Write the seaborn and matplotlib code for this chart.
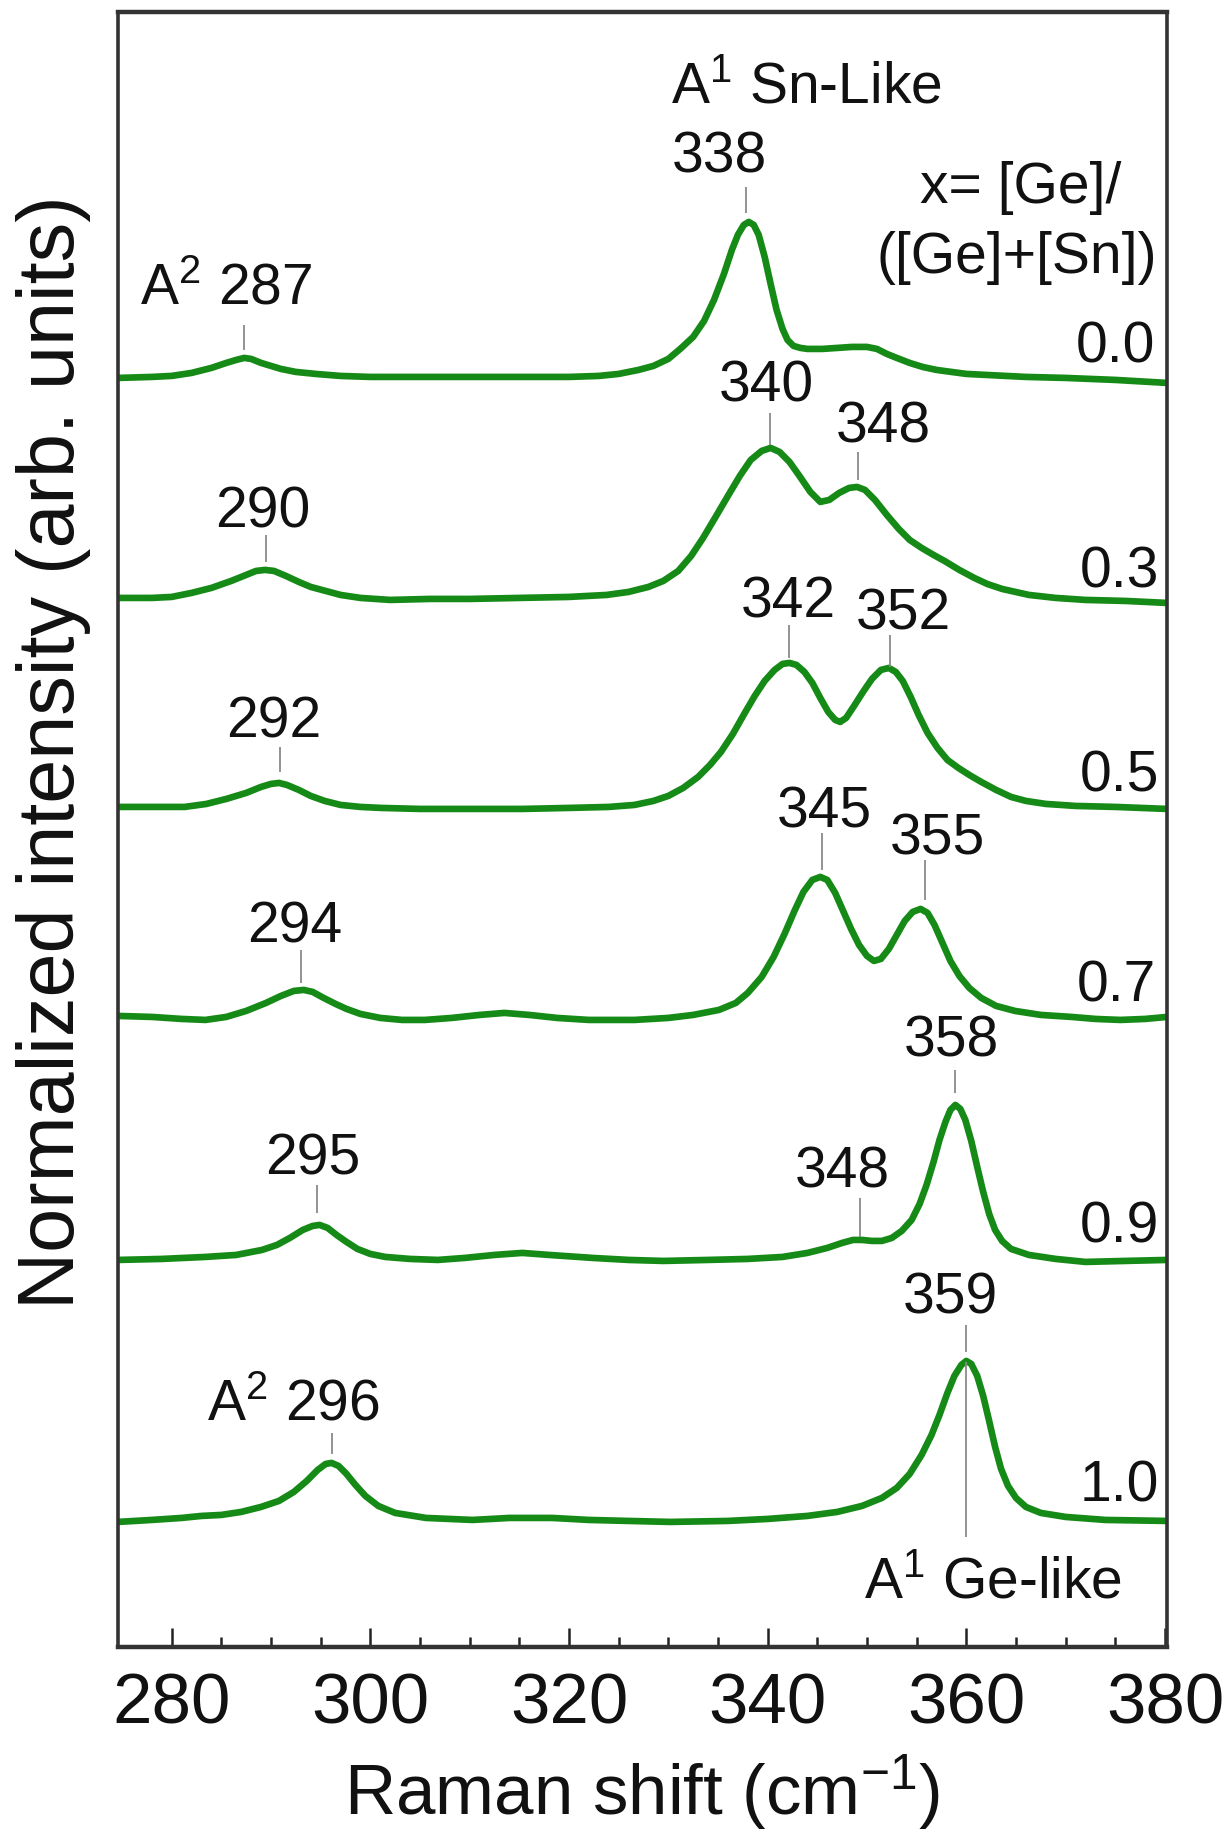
import numpy as np
import pandas as pd
import matplotlib
matplotlib.use("Agg")
import matplotlib.pyplot as plt
import seaborn as sns
from matplotlib.ticker import FixedLocator

# ---------------- data ----------------
compositions = ["0.0", "0.3", "0.5", "0.7", "0.9", "1.0"]
offsets = [12.70, 10.49, 8.39, 6.30, 3.87, 1.26]

s00_x = [274.6, 278, 280, 282, 284, 285.5, 286.5, 287.3, 288, 289, 290, 291, 292.5, 294.5, 297, 300,
         305, 310, 315, 320, 323, 325, 327, 328.5, 330, 331.2, 332.5, 333.6, 334.6, 335.6, 336.4,
         337, 337.6, 338.1, 338.6, 339.1, 339.7, 340.3, 340.9, 341.5, 342, 342.6, 343.3, 344, 345.5,
         347, 348.5, 350, 351, 352, 353, 354.3, 355.6, 357, 358.5, 360, 362, 366, 370, 375, 380.2]
s00_y = [-0.01, 0, 0.01, 0.04, 0.09, 0.14, 0.17, 0.19, 0.18, 0.14, 0.11, 0.08, 0.05, 0.03, 0.01, 0.0,
         0, 0.0, 0, 0.0, 0.01, 0.03, 0.07, 0.11, 0.18, 0.28, 0.40, 0.56, 0.77, 1.03, 1.27,
         1.42, 1.52, 1.55, 1.52, 1.42, 1.20, 0.93, 0.67, 0.48, 0.37, 0.31, 0.29, 0.28, 0.28,
         0.29, 0.30, 0.30, 0.28, 0.23, 0.19, 0.14, 0.10, 0.07, 0.05, 0.03, 0.02, 0.0, -0.01, -0.03, -0.06]

s03_x = [274.6, 278, 280, 282, 284, 286, 287.5, 288.5, 289.4, 290.3, 291.5, 292.8, 294, 295.5, 297,
         299, 302, 306, 310, 315, 320, 323.8, 326, 328, 329.5, 331, 332.3, 333.5, 334.7, 336, 337.2,
         338.3, 339.4, 340.3, 341.2, 342.2, 343.2, 344.3, 345.3, 346.2, 347.2, 348.2, 349, 349.8,
         350.8, 352, 353.2, 354.3, 355.5, 356.7, 357.8, 359.3, 360.8, 362.1, 363.6, 366.3, 369, 372,
         376, 380.2]
s03_y = [0, 0.0, 0.01, 0.05, 0.10, 0.17, 0.23, 0.27, 0.28, 0.27, 0.22, 0.16, 0.11, 0.07, 0.03,
         0.0, -0.02, -0.01, -0.01, 0, 0.01, 0.03, 0.06, 0.11, 0.17, 0.27, 0.42, 0.60, 0.80, 1.02, 1.22,
         1.38, 1.47, 1.50, 1.46, 1.36, 1.22, 1.06, 0.96, 0.98, 1.05, 1.10, 1.11, 1.08,
         0.98, 0.83, 0.69, 0.58, 0.50, 0.43, 0.37, 0.28, 0.20, 0.14, 0.09, 0.03, 0.0, -0.02,
         -0.03, -0.05]

s05_x = [274.6, 278, 281.3, 283.5, 285.5, 287.5, 289, 290, 290.8, 291.6, 292.8, 294, 295.4, 297, 299,
         301.1, 305, 310, 315.3, 320, 324, 326.6, 328.5, 330, 331.5, 333, 334.2, 335.3, 336.5, 337.7,
         338.7, 339.7, 340.7, 341.5, 342.2, 342.9, 343.7, 344.5, 345.3, 346.1, 346.8, 347.3, 347.9,
         348.7, 349.6, 350.5, 351.4, 352.2, 352.9, 353.6, 354.4, 355.2, 356.1, 357.1, 358.1, 359.2,
         360.3, 361.5, 363, 364.5, 366, 368, 371, 375, 380.2]
s05_y = [0.01, 0.01, 0.01, 0.04, 0.09, 0.15, 0.21, 0.24, 0.25, 0.23, 0.18, 0.12, 0.07, 0.03, 0.01,
         0, -0.01, -0.01, -0.01, 0.0, 0.01, 0.03, 0.07, 0.12, 0.20, 0.31, 0.43, 0.56, 0.74, 0.95,
         1.12, 1.27, 1.38, 1.44, 1.45, 1.43, 1.36, 1.25, 1.10, 0.96, 0.88, 0.86, 0.90,
         1.02, 1.16, 1.29, 1.38, 1.40, 1.36, 1.27, 1.11, 0.93, 0.75, 0.60, 0.48, 0.40,
         0.33, 0.26, 0.18, 0.11, 0.07, 0.04, 0.02, 0.01, -0.01]

s07_x = [274.6, 278, 281, 283.4, 285.5, 287.5, 289.5, 291, 292.3, 293.3, 294.2, 295.3, 296.5, 297.6,
         299, 301, 303.2, 305.5, 308.2, 311, 313.5, 316, 318.8, 322, 326.6, 330, 332.5, 335.1, 336.8,
         338, 339.4, 340.6, 341.7, 342.7, 343.6, 344.5, 345.3, 346, 346.8, 347.6, 348.4, 349.2, 350,
         350.7, 351.4, 352.2, 353, 353.8, 354.6, 355.4, 356.1, 356.8, 357.6, 358.4, 359.3, 360.3,
         361.5, 363, 364.9, 367.5, 370.6, 373, 375.5, 378, 380.2]
s07_y = [0.01, 0.0, -0.02, -0.03, 0.0, 0.06, 0.14, 0.21, 0.26, 0.27, 0.25, 0.19, 0.13, 0.08,
         0.03, -0.01, -0.03, -0.03, -0.01, 0.02, 0.04, 0.02, -0.01, -0.03, -0.03, -0.01, 0.02, 0.07, 0.14,
         0.24, 0.40, 0.60, 0.83, 1.06, 1.25, 1.37, 1.40, 1.37, 1.24, 1.06, 0.88, 0.72, 0.61,
         0.56, 0.58, 0.68, 0.82, 0.96, 1.05, 1.08, 1.04, 0.92, 0.74, 0.56, 0.41, 0.29,
         0.19, 0.11, 0.06, 0.02, 0.0, -0.02, -0.03, -0.02, 0.0]

s09_x = [274.6, 279, 283.4, 286.5, 289.1, 290.6, 291.9, 293.2, 294.2, 294.9, 295.7, 296.6, 297.6,
         298.7, 300, 301.5, 304, 306.8, 309.5, 312.5, 315.3, 318, 322.4, 326, 329.5, 334, 338, 341.5,
         344, 346, 347.5, 348.6, 349.5, 350.5, 351.5, 352.5, 353.5, 354.5, 355.3, 356, 356.7, 357.3,
         357.9, 358.4, 358.9, 359.4, 359.9, 360.5, 361.1, 361.7, 362.3, 362.9, 363.6, 364.5, 366.3,
         369, 372, 376, 380.2]
s09_y = [0, 0.01, 0.03, 0.05, 0.10, 0.15, 0.22, 0.30, 0.34, 0.35, 0.32, 0.25, 0.18,
         0.11, 0.06, 0.03, 0.01, 0.0, 0.02, 0.05, 0.07, 0.05, 0.02, 0.0, -0.01, 0.0, 0.01, 0.03,
         0.07, 0.12, 0.17, 0.20, 0.20, 0.19, 0.19, 0.22, 0.29, 0.40, 0.56, 0.75, 0.98, 1.20,
         1.38, 1.50, 1.55, 1.51, 1.40, 1.19, 0.93, 0.68, 0.46, 0.30, 0.19, 0.11, 0.05,
         0.01, -0.02, -0.01, 0]

s10_x = [274.6, 278, 281, 283, 285, 287, 289, 290.8, 292.3, 293.6, 294.7, 295.5, 296.1, 296.8, 297.6,
         298.5, 299.5, 300.8, 302.5, 305.6, 310.3, 314, 318.3, 322, 326, 330.2, 336, 340, 344, 347,
         349.5, 351.5, 353, 354.3, 355.5, 356.5, 357.3, 358.1, 358.8, 359.5, 360.0, 360.5, 361.1,
         361.7, 362.3, 362.9, 363.5, 364.2, 365, 366, 367.5, 370, 374, 380.2]
s10_y = [-0.01, 0.01, 0.03, 0.05, 0.06, 0.09, 0.14, 0.20, 0.29, 0.40, 0.51, 0.57, 0.58, 0.55, 0.47,
         0.36, 0.25, 0.15, 0.08, 0.03, 0.01, 0.03, 0.03, 0.01, 0.0, -0.01, 0.0, 0.02, 0.05, 0.09,
         0.15, 0.23, 0.33, 0.47, 0.66, 0.86, 1.06, 1.28, 1.45, 1.56, 1.60, 1.57, 1.45,
         1.25, 1.00, 0.74, 0.52, 0.35, 0.23, 0.14, 0.08, 0.04, 0.01, 0.0]

spectra_x = [s00_x, s03_x, s05_x, s07_x, s09_x, s10_x]
spectra_y = [s00_y, s03_y, s05_y, s07_y, s09_y, s10_y]

# annotation texts
label_text = ["A$^{2}$ 287", "A$^{1}$ Sn-Like", "338", "x= [Ge]/", "([Ge]+[Sn])", "0.0",
              "290", "340", "348", "0.3",
              "292", "342", "352", "0.5",
              "294", "345", "355", "0.7",
              "295", "348", "358", "0.9",
              "A$^{2}$ 296", "359", "1.0", "A$^{1}$ Ge-like"]
label_x = [285.5, 343.9, 335.1, 365.5, 365.1, 379.0,
           289.2, 339.9, 351.6, 379.4,
           290.3, 342.1, 353.7, 379.4,
           292.4, 345.7, 357.1, 379.1,
           294.2, 347.5, 358.5, 379.4,
           292.3, 358.4, 379.4, 362.7]
label_y = [13.42, 15.44, 14.74, 14.44, 13.74, 12.84,
           11.19, 12.45, 12.04, 10.59,
           9.09, 10.29, 10.17, 8.55,
           7.04, 8.19, 7.92, 6.45,
           4.72, 4.59, 5.90, 4.04,
           2.26, 3.33, 1.45, 0.49]
label_ha = ["center", "center", "center", "center", "center", "right",
            "center", "center", "center", "right",
            "center", "center", "center", "right",
            "center", "center", "center", "right",
            "center", "center", "center", "right",
            "center", "center", "right", "center"]

# peak marker lines
marker_x = [287.3, 337.8, 289.5, 340.2, 349.1, 290.9, 342.1, 352.3, 293.0, 345.5, 355.8,
            294.6, 349.3, 358.9, 296.1, 360.0, 360.0]
marker_y0 = [12.97, 14.34, 10.85, 12.02, 11.67, 8.75, 9.89, 9.80, 6.64, 7.77, 7.47,
             4.34, 4.10, 5.54, 1.93, 2.95, 1.10]
marker_y1 = [13.22, 14.60, 11.12, 12.34, 11.95, 9.00, 10.22, 10.12, 6.97, 8.14, 7.87,
             4.62, 4.49, 5.77, 2.14, 3.22, 2.85]

major_ticks = [280, 300, 320, 340, 360, 380]
minor_ticks = [285, 290, 295, 305, 310, 315, 325, 330, 335, 345, 350, 355, 365, 370, 375]

# ---------------- style ----------------
sns.set_style("ticks")
plt.rcParams["font.family"] = ["Liberation Sans", "DejaVu Sans"]
plt.rcParams["mathtext.default"] = "regular"

green = "#168a16"

rows = []
for comp, off, xs, ys in zip(compositions, offsets, spectra_x, spectra_y):
    for xv, yv in zip(xs, ys):
        rows.append({"shift": xv, "intensity": yv + off, "x": comp})
df = pd.DataFrame(rows)

fig = plt.figure(figsize=(12.32, 18.34), dpi=100)
ax = fig.add_axes([0.0958, 0.102, 0.8514, 0.8915])

sns.lineplot(data=df, x="shift", y="intensity", hue="x", units="x", estimator=None,
             palette={c: green for c in compositions}, linewidth=4.8, legend=False,
             sort=False, ax=ax, solid_joinstyle="round", solid_capstyle="round")

ax.vlines(marker_x, marker_y0, marker_y1, colors="#8a8a8a", linewidth=1.3)

for t, xv, yv, ha in zip(label_text, label_x, label_y, label_ha):
    ax.text(xv, yv, t, ha=ha, va="baseline", fontsize=41, color="#111111")

ax.set_xlim(274.6, 380.2)
ax.set_ylim(0, 16.35)
ax.xaxis.set_major_locator(FixedLocator(major_ticks))
ax.xaxis.set_minor_locator(FixedLocator(minor_ticks))
ax.set_yticks([])
ax.tick_params(axis="x", which="major", direction="in", length=14, width=1.8,
               labelsize=51, pad=18.5, colors="#222222", labelcolor="#111111")
ax.tick_params(axis="x", which="minor", direction="in", length=7, width=1.8, colors="#222222")

for side in ["top", "bottom"]:
    ax.spines[side].set_linewidth(3.2)
    ax.spines[side].set_color("#333333")
for side in ["left", "right"]:
    ax.spines[side].set_linewidth(2.6)
    ax.spines[side].set_color("#333333")

ax.set_xlabel("Raman shift (cm$^{-1}$)", fontsize=51, labelpad=10, color="#111111")
ax.set_ylabel("Normalized intensity (arb. units)", fontsize=57, color="#111111")
ax.yaxis.set_label_coords(-0.026, 0.547)

fig.savefig("out.png", dpi=100)
